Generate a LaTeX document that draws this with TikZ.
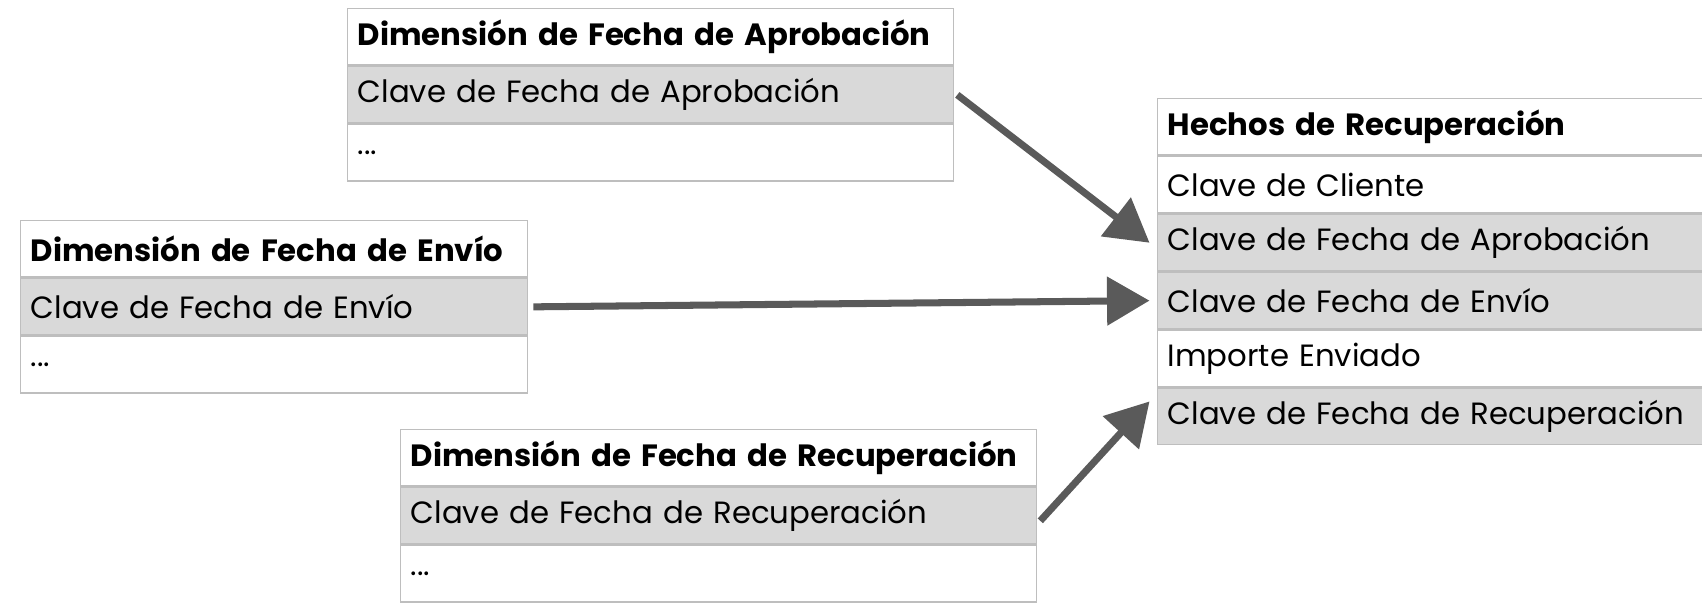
\documentclass[tikz,border=0pt]{standalone}
\usepackage{fontspec}
\setmainfont{Poppins}
\usetikzlibrary{arrows.meta}
\definecolor{rowgray}{RGB}{217,217,217}
\definecolor{linegray}{RGB}{190,190,190}
\definecolor{arrowgray}{RGB}{90,90,90}
\tikzset{
  cell/.style={draw=linegray, line width=0.8pt, anchor=north west, inner sep=0pt,
    minimum height=1.13cm, text width=#1, align=left, font=\fontsize{17.5}{20}\selectfont,
    execute at begin node={\hspace*{0.2cm}}},
  head/.style={cell=#1, fill=white, font=\fontsize{17.5}{20}\selectfont\bfseries},
  key/.style={cell=#1, fill=rowgray},
  link/.style={draw=arrowgray, line width=4pt, -{Triangle[length=0.85cm, width=0.95cm]}}
}
\begin{document}
\begin{tikzpicture}[x=0.02cm, y=-0.02cm]
\useasboundingbox (0,0) rectangle (1702,608);
% aprobacion
\node[head=12.12cm] (apT) at (347,8) {Dimensión de Fecha de Aprobación};
\node[key=12.12cm] (apK) at (apT.south west) {Clave de Fecha de Aprobación};
\node[cell=12.12cm] (apE) at (apK.south west) {...};
% envio
\node[head=10.14cm] (enT) at (20,220) {Dimensión de Fecha de Envío};
\node[key=10.14cm] (enK) at (enT.south west) {Clave de Fecha de Envío};
\node[cell=10.14cm] (enE) at (enK.south west) {...};
% recuperacion
\node[head=12.72cm] (reT) at (400,429) {Dimensión de Fecha de Recuperación};
\node[key=12.72cm] (reK) at (reT.south west) {Clave de Fecha de Recuperación};
\node[cell=12.72cm] (reE) at (reK.south west) {...};
% hechos
\node[head=10.9cm] (hT) at (1157,98) {Hechos de Recuperación};
\node[cell=10.9cm, fill=white] (hC) at (hT.south west) {Clave de Cliente};
\node[key=10.9cm] (hA) at (hC.south west) {Clave de Fecha de Aprobación};
\node[key=10.9cm] (hE) at (hA.south west) {Clave de Fecha de Envío};
\node[cell=10.9cm, fill=white] (hI) at (hE.south west) {Importe Enviado};
\node[key=10.9cm] (hR) at (hI.south west) {Clave de Fecha de Recuperación};
% enlaces
\draw[link] ([xshift=0.06cm]apK.east) -- ([xshift=-0.15cm]hA.west);
\draw[link] ([xshift=0.1cm]enK.east) -- ([xshift=-0.15cm]hE.west);
\draw[link] ([xshift=0.06cm,yshift=-0.1cm]reK.east) -- ([xshift=-0.15cm,yshift=0.3cm]hR.west);
\end{tikzpicture}
\end{document}
